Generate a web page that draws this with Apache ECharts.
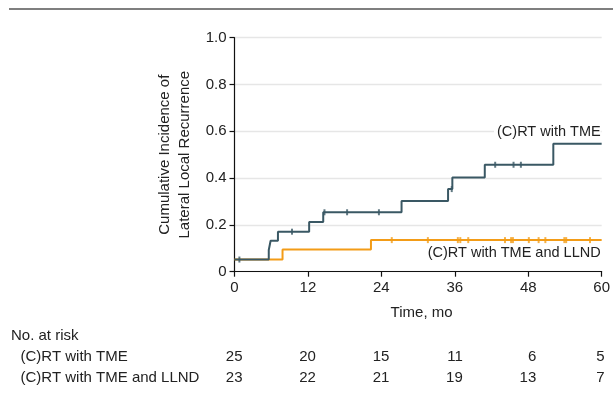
<!DOCTYPE html>
<html>
<head>
<meta charset="utf-8">
<script src="https://cdn.jsdelivr.net/npm/echarts@6/dist/echarts.min.js"></script>
<style>
html,body{margin:0;padding:0;background:#fff;}
#chart{width:613px;height:402px;}
</style>
</head>
<body>
<div id="chart"></div>
<script>
// ---- data ----
const xTicks = [0, 12, 24, 36, 48, 60];
const yTicks = [0, 0.2, 0.4, 0.6, 0.8, 1.0];

// (C)RT with TME : step times and cumulative incidence after each step
const tmeTimes  = [0, 5.6, 5.9, 7.1, 12.2, 14.5, 27.3, 34.9, 35.6, 40.9, 52.1, 60];
const tmeValues = [0.052, 0.093, 0.132, 0.171, 0.212, 0.254, 0.302, 0.353, 0.403, 0.457, 0.547, 0.547];
const tmeCensor = [0.8, 9.4, 14.7, 18.4, 23.6, 35.5, 42.6, 45.6, 46.8];

// (C)RT with TME and LLND
const llndTimes  = [0, 7.85, 22.3, 60];
const llndValues = [0.052, 0.095, 0.135, 0.135];
const llndCensor = [25.7, 31.6, 36.5, 36.9, 38.2, 44.2, 45.2, 45.5, 48.1, 49.7, 50.8, 53.9, 54.2, 58.1];

const riskTitle = 'No. at risk';
const groupNames = ['(C)RT with TME', '(C)RT with TME and LLND'];
const riskTme  = [25, 20, 15, 11, 6, 5];
const riskLlnd = [23, 22, 21, 19, 13, 7];

// ---- styles ----
const BLUE = '#3a5864';
const ORANGE = '#f39c17';
const FONT = '"Liberation Sans", Arial, sans-serif';
const TXT = '#222';

function stepValue(times, values, t) {
  let v = values[0];
  for (let i = 0; i < times.length; i++) { if (times[i] <= t) v = values[i]; }
  return v;
}
const pairs = (ts, vs) => ts.map((t, i) => [t, vs[i]]);

const chart = echarts.init(document.getElementById('chart'));
chart.setOption({
  animation: false,
  backgroundColor: '#fff',
  grid: { left: 234.5, right: 8, top: 37.7, bottom: 130.3 },
  xAxis: {
    type: 'value', min: 0, max: 60, interval: 12,
    name: 'Time, mo', nameLocation: 'middle', nameGap: 34,
    nameTextStyle: { fontFamily: FONT, fontSize: 15, color: TXT, padding: [0, 0, 0, 7] },
    axisLine: { show: true, lineStyle: { color: '#111', width: 1.2 } },
    axisTick: { show: true, inside: false, length: 5, lineStyle: { color: '#111', width: 1.2 } },
    axisLabel: { fontFamily: FONT, fontSize: 15, color: TXT, margin: 9 },
    splitLine: { show: false }
  },
  yAxis: {
    type: 'value', min: 0, max: 1, interval: 0.2,
    name: 'Cumulative Incidence of\nLateral Local Recurrence',
    nameLocation: 'middle', nameGap: 40,
    nameTextStyle: { fontFamily: FONT, fontSize: 15, color: TXT, lineHeight: 20 },
    axisLine: { show: true, lineStyle: { color: '#111', width: 1.2 } },
    axisTick: { show: true, inside: false, length: 5, lineStyle: { color: '#111', width: 1.2 } },
    axisLabel: { fontFamily: FONT, fontSize: 15, color: TXT, margin: 8,
      formatter: v => (v === 0 ? '0' : v.toFixed(1)) },
    splitLine: { show: true, lineStyle: { color: '#e6e6e6', width: 1.3 } }
  },
  series: [
    { type: 'line', step: 'end', data: pairs(llndTimes, llndValues), symbol: 'none',
      lineStyle: { color: ORANGE, width: 2 }, z: 3 },
    { type: 'line', step: 'end', data: pairs(tmeTimes, tmeValues), symbol: 'none',
      lineStyle: { color: BLUE, width: 2 }, z: 4 },
    { type: 'scatter', data: llndCensor.map(t => [t, stepValue(llndTimes, llndValues, t)]),
      symbol: 'rect', symbolSize: [2, 6], itemStyle: { color: ORANGE }, z: 5 },
    { type: 'scatter', data: tmeCensor.map(t => [t, stepValue(tmeTimes, tmeValues, t)]),
      symbol: 'rect', symbolSize: [2, 6], itemStyle: { color: BLUE }, z: 6 }
  ]
});

// annotations and at-risk table, positioned through the chart's scales
const graphics = [];
graphics.push({ type: 'line', shape: { x1: 9, y1: 9, x2: 613, y2: 9 },
  style: { stroke: '#555', lineWidth: 1.6 }, z: 10 });

const rightX = chart.convertToPixel({ xAxisIndex: 0 }, 60) - 1;
const lbl1Y = chart.convertToPixel({ yAxisIndex: 0 }, 0.598);
const lbl2Y = chart.convertToPixel({ yAxisIndex: 0 }, 0.079);
graphics.push({ type: 'text', x: rightX, y: lbl1Y, z: 20,
  style: { text: groupNames[0], font: '14.5px ' + FONT, fill: TXT, align: 'right',
    verticalAlign: 'middle', backgroundColor: '#fff', padding: [1, 0, 1, 3] } });
graphics.push({ type: 'text', x: rightX, y: lbl2Y, z: 20,
  style: { text: groupNames[1], font: '14.5px ' + FONT, fill: TXT, align: 'right',
    verticalAlign: 'middle', backgroundColor: '#fff', padding: [1, 0, 1, 3] } });

graphics.push({ type: 'text', x: 11, y: 336, style: { text: riskTitle, font: '15px ' + FONT,
  fill: TXT, align: 'left', verticalAlign: 'middle' } });
const rowY = [356.7, 378];
const rows = [riskTme, riskLlnd];
rows.forEach((row, r) => {
  graphics.push({ type: 'text', x: 20.5, y: rowY[r], style: { text: groupNames[r],
    font: '15px ' + FONT, fill: TXT, align: 'left', verticalAlign: 'middle' } });
  row.forEach((n, i) => {
    const px = chart.convertToPixel({ xAxisIndex: 0 }, xTicks[i]);
    const off = i === row.length - 1 ? 3 : 8;
    graphics.push({ type: 'text', x: px + off, y: rowY[r], style: { text: String(n),
      font: '15px ' + FONT, fill: TXT, align: 'right', verticalAlign: 'middle' } });
  });
});
chart.setOption({ graphic: graphics });
</script>
</body>
</html>
